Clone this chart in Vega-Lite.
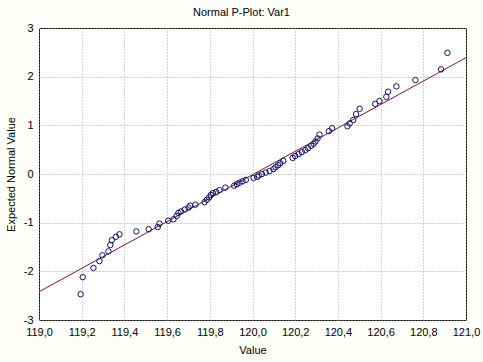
{
  "$schema": "https://vega.github.io/schema/vega-lite/v6.json",
  "width": 427,
  "height": 292,
  "autosize": {"type": "none"},
  "padding": {"left": 39, "top": 28, "right": 17, "bottom": 42},
  "background": "#fefefa",
  "title": {"text": "Normal P-Plot: Var1", "font": "Liberation Sans", "fontSize": 11, "fontWeight": "normal", "color": "#000000", "anchor": "middle", "frame": "group", "dx": -11, "offset": 4},
  "config": {
    "view": {"stroke": "#000000", "strokeWidth": 1, "fill": "#ffffff"},
    "axis": {"labelFont": "Liberation Sans", "labelFontSize": 11, "labelColor": "#000000", "titleFont": "Liberation Sans", "titleFontSize": 11, "titleFontWeight": "normal", "titleColor": "#000000", "ticks": false, "domain": false, "grid": true, "gridColor": "#a4a4a4", "gridDash": [1, 2], "gridWidth": 1}
  },
  "datasets": {
    "pts": [
      {"v": 119.195, "e": -2.47}, {"v": 119.205, "e": -2.12}, {"v": 119.255, "e": -1.93}, {"v": 119.283, "e": -1.79},
      {"v": 119.297, "e": -1.67}, {"v": 119.325, "e": -1.59}, {"v": 119.334, "e": -1.46}, {"v": 119.341, "e": -1.36},
      {"v": 119.36, "e": -1.29}, {"v": 119.377, "e": -1.24}, {"v": 119.456, "e": -1.18}, {"v": 119.514, "e": -1.135},
      {"v": 119.556, "e": -1.09}, {"v": 119.564, "e": -1.02}, {"v": 119.605, "e": -0.96}, {"v": 119.63, "e": -0.93},
      {"v": 119.645, "e": -0.86}, {"v": 119.653, "e": -0.8}, {"v": 119.665, "e": -0.77}, {"v": 119.683, "e": -0.73},
      {"v": 119.7, "e": -0.69}, {"v": 119.708, "e": -0.65}, {"v": 119.733, "e": -0.63}, {"v": 119.775, "e": -0.58},
      {"v": 119.786, "e": -0.53}, {"v": 119.797, "e": -0.48}, {"v": 119.805, "e": -0.43}, {"v": 119.815, "e": -0.39},
      {"v": 119.83, "e": -0.37}, {"v": 119.845, "e": -0.33}, {"v": 119.873, "e": -0.28}, {"v": 119.914, "e": -0.24},
      {"v": 119.927, "e": -0.21}, {"v": 119.939, "e": -0.18}, {"v": 119.953, "e": -0.15}, {"v": 119.969, "e": -0.12},
      {"v": 120.005, "e": -0.08}, {"v": 120.022, "e": -0.06}, {"v": 120.03, "e": -0.03}, {"v": 120.044, "e": 0.0},
      {"v": 120.062, "e": 0.03}, {"v": 120.08, "e": 0.06}, {"v": 120.098, "e": 0.1}, {"v": 120.108, "e": 0.14},
      {"v": 120.12, "e": 0.18}, {"v": 120.13, "e": 0.22}, {"v": 120.144, "e": 0.27}, {"v": 120.188, "e": 0.33},
      {"v": 120.2, "e": 0.37}, {"v": 120.216, "e": 0.41}, {"v": 120.231, "e": 0.45}, {"v": 120.247, "e": 0.49},
      {"v": 120.26, "e": 0.53}, {"v": 120.275, "e": 0.58}, {"v": 120.286, "e": 0.62}, {"v": 120.295, "e": 0.67},
      {"v": 120.305, "e": 0.73}, {"v": 120.314, "e": 0.81}, {"v": 120.358, "e": 0.88}, {"v": 120.373, "e": 0.94},
      {"v": 120.445, "e": 0.98}, {"v": 120.455, "e": 1.04}, {"v": 120.472, "e": 1.11}, {"v": 120.485, "e": 1.23},
      {"v": 120.502, "e": 1.34}, {"v": 120.575, "e": 1.44}, {"v": 120.595, "e": 1.5}, {"v": 120.627, "e": 1.585},
      {"v": 120.635, "e": 1.69}, {"v": 120.674, "e": 1.8}, {"v": 120.763, "e": 1.93}, {"v": 120.883, "e": 2.15},
      {"v": 120.913, "e": 2.49}
    ],
    "fit": [{"v": 119.0, "e": -2.42}, {"v": 121.0, "e": 2.39}]
  },
  "layer": [
    {
      "data": {"name": "fit"},
      "mark": {"type": "line", "color": "#8b1030", "strokeWidth": 1, "clip": true},
      "encoding": {
        "x": {"field": "v", "type": "quantitative", "scale": {"domain": [119, 121], "nice": false, "zero": false},
          "axis": {"title": "Value", "values": [119, 119.2, 119.4, 119.6, 119.8, 120, 120.2, 120.4, 120.6, 120.8, 121], "labelExpr": "replace(format(datum.value, '.1f'), '.', ',')", "labelPadding": 6, "titlePadding": 7, "labelFlush": false}},
        "y": {"field": "e", "type": "quantitative", "scale": {"domain": [-3, 3], "nice": false, "zero": false},
          "axis": {"title": "Expected Normal Value", "values": [-3, -2, -1, 0, 1, 2, 3], "labelExpr": "'' + datum.value", "labelPadding": 6, "titlePadding": 7, "labelFlush": false}}
      }
    },
    {
      "data": {"name": "pts"},
      "mark": {"type": "point", "shape": "circle", "filled": false, "color": "#10106a", "size": 30, "strokeWidth": 1, "opacity": 1},
      "encoding": {
        "x": {"field": "v", "type": "quantitative"},
        "y": {"field": "e", "type": "quantitative"}
      }
    }
  ]
}
